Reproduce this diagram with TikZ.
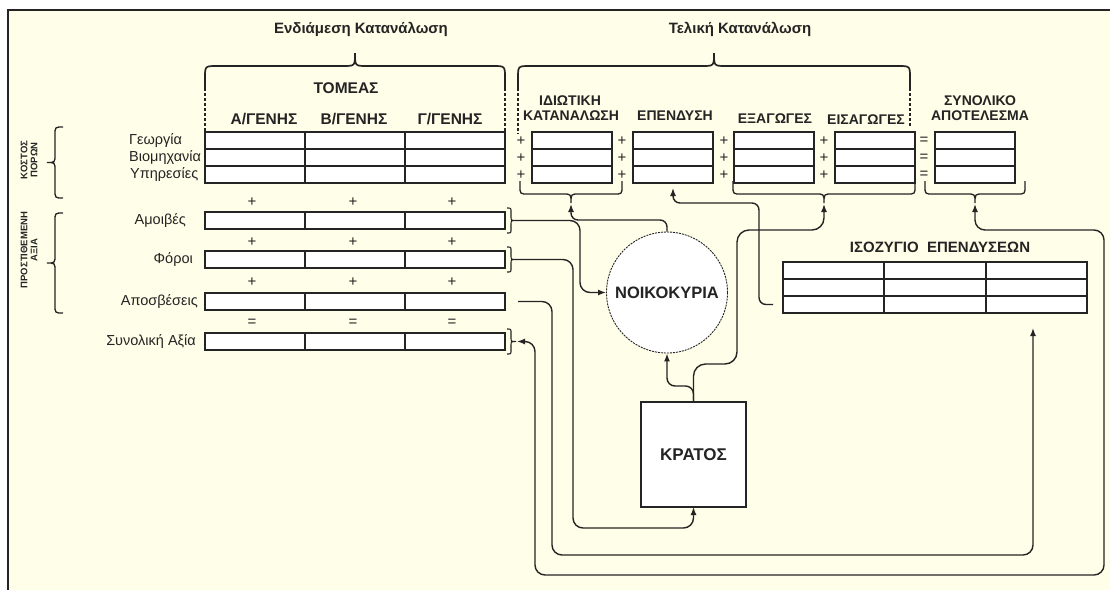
\documentclass[tikz,border=0pt]{standalone}
\usepackage{fontspec}
\setmainfont{Liberation Sans}
\usetikzlibrary{arrows.meta}
\definecolor{bgc}{RGB}{255,254,232}
\definecolor{inkc}{RGB}{36,36,36}

% horizontal curly brace: [style]{y_end}{y_bar}{y_tip}{x1}{x2}{radius}
\newcommand\hbrace[7][]{%
  \pgfmathsetmacro\hbs{(#2>#3)?1:-1}%
  \pgfmathsetmacro\hbc{(#5+#6)/2}%
  \draw[brc,#1] (#5,#2) -- (#5,{#3+\hbs*#7}) .. controls (#5,#3) and (#5,#3) .. ({#5+#7},#3)
    -- ({\hbc-#7},#3) .. controls (\hbc,#3) and (\hbc,#3) .. (\hbc,#4)
    .. controls (\hbc,#3) and (\hbc,#3) .. ({\hbc+#7},#3)
    -- ({#6-#7},#3) .. controls (#6,#3) and (#6,#3) .. (#6,{#3+\hbs*#7}) -- (#6,#2);}
% vertical curly brace: [style]{x_end}{x_bar}{x_tip}{y1}{y2}{radius}
\newcommand\vbrace[7][]{%
  \pgfmathsetmacro\vbs{(#2>#3)?1:-1}%
  \pgfmathsetmacro\vbc{(#5+#6)/2}%
  \draw[brc,#1] (#2,#5) -- ({#3+\vbs*#7},#5) .. controls (#3,#5) and (#3,#5) .. (#3,{#5+#7})
    -- (#3,{\vbc-#7}) .. controls (#3,\vbc) and (#3,\vbc) .. (#4,\vbc)
    .. controls (#3,\vbc) and (#3,\vbc) .. (#3,{\vbc+#7})
    -- (#3,{#6-#7}) .. controls (#3,#6) and (#3,#6) .. ({#3+\vbs*#7},#6) -- (#2,#6);}

\begin{document}
\begin{tikzpicture}[x=1pt,y=-1pt,
  brc/.style={draw=inkc,line width=1.3pt},
  grid/.style={draw=inkc,line width=1.2pt},
  box/.style={draw=inkc,fill=white,line width=1.5pt,inner sep=0pt,outer sep=0pt},
  conn/.style={draw=inkc,line width=1.4pt,rounded corners=10pt},
  arr/.style={-{Latex[length=8pt,width=6pt]}},
  dashln/.style={draw=inkc,line width=1.1pt,dash pattern=on 3pt off 2pt},
  ttl/.style={font=\bfseries\fontsize{15}{16}\selectfont,text=inkc,inner sep=0pt},
  hdr/.style={font=\bfseries\fontsize{14}{15}\selectfont,text=inkc,inner sep=0pt},
  hdrL/.style={font=\bfseries\fontsize{15.5}{16}\selectfont,text=inkc,inner sep=0pt},
  lbl/.style={font=\fontsize{14.5}{15}\selectfont,text=inkc,inner sep=0pt},
  sgn/.style={font=\fontsize{15}{15}\selectfont,text=inkc,inner sep=0pt},
  side/.style={rotate=90,align=center,font=\bfseries\fontsize{9.5}{10}\selectfont,text=inkc,inner sep=0pt}]
\useasboundingbox (0,0) rectangle (1110,590);
% sheet and frame
\fill[white] (0,0) rectangle (1110,590);
\fill[bgc] (8,10) rectangle (1110,590);
\draw[inkc,line width=1.4pt] (8,590) -- (8,10) -- (1110,10);

% ---- titles and top braces
\node[ttl] (tInter) at (361,29) {Ενδιάμεση Κατανάλωση};
\node[ttl] (tFinal) at (740,29) {Τελική Κατανάλωση};
\hbrace[line width=1.7pt]{88}{66}{53}{205}{505}{12}
\hbrace[line width=1.7pt]{88}{66}{53}{518}{910}{12}
\draw[dashln] (205,88) -- (205,132) (505,88) -- (505,132)
              (518,88) -- (518,134) (910,88) -- (910,126);

% ---- column headers
\node[hdrL] (hSector) at (346,88) {ΤΟΜΕΑΣ};
\node[hdrL] (hA) at (264,119) {Α/ΓΕΝΗΣ};
\node[hdrL] (hB) at (354,119) {Β/ΓΕΝΗΣ};
\node[hdrL] (hC) at (450,119) {Γ/ΓΕΝΗΣ};
\node[hdr] (hPriv1) at (570,101) {ΙΔΙΩΤΙΚΗ};
\node[hdr] (hPriv2) at (571,116) {ΚΑΤΑΝΑΛΩΣΗ};
\node[hdr] (hInv) at (675,116) {ΕΠΕΝΔΥΣΗ};
\node[hdr] (hExp) at (775,119) {ΕΞΑΓΩΓΕΣ};
\node[hdr] (hImp) at (866,120) {ΕΙΣΑΓΩΓΕΣ};
\node[hdr] (hTot1) at (980,101) {ΣΥΝΟΛΙΚΟ};
\node[hdr] (hTot2) at (980,116) {ΑΠΟΤΕΛΕΣΜΑ};

% ---- intermediate consumption table
\node[box,minimum width=300pt,minimum height=51pt] (tL) at (355,157.5) {};
\draw[grid] (305,132) -- (305,183) (405,132) -- (405,183)
            (205,149) -- (505,149) (205,166) -- (505,166);
\node[lbl,anchor=west] (rG) at (129,141) {Γεωργία};
\node[lbl,anchor=west] (rB) at (129,158) {Βιομηχανία};
\node[lbl,anchor=west] (rY) at (130,175) {Υπηρεσίες};

% ---- final demand boxes
\foreach \nm/\xl in {idiot/532,epend/633,exag/734,eisag/835,synres/935}{
  \node[box,minimum width=80pt,minimum height=51pt] (\nm) at ({\xl+40},157.5) {};
  \draw[grid] (\xl,149) -- ({\xl+80},149) (\xl,166) -- ({\xl+80},166);
}
\foreach \x/\s [count=\i] in {521/+,622/+,724/+,824/+,924/=}{
  \foreach \y [count=\j] in {141,158,175}{
    \node[sgn] (op\i\j) at (\x,\y) {\s};
  }
}

% ---- value added rows
\foreach \nm/\yt in {amoib/212,foroi/251,aposb/293,synol/333}{
  \node[box,minimum width=300pt,minimum height=17pt] (\nm) at (355,{\yt+8.5}) {};
  \draw[grid] (305,\yt) -- (305,{\yt+17}) (405,\yt) -- (405,{\yt+17});
}
\node[lbl,anchor=east] (rAm) at (186,220.5) {Αμοιβές};
\node[lbl,anchor=east] (rFo) at (193,259.5) {Φόροι};
\node[lbl,anchor=east] (rAp) at (198,301.5) {Αποσβέσεις};
\node[lbl,anchor=east] (rSy) at (196,341.5) {Συνολική Αξία};
\foreach \y/\s [count=\i] in {202/+,242/+,282/+,323/=}{
  \foreach \x [count=\j] in {252,353,452}{
    \node[sgn] (vs\i\j) at (\x,\y) {\s};
  }
}

% ---- side braces and labels
\vbrace{63}{55}{47}{127}{198}{8}
\vbrace{63}{55}{47}{213}{313}{8}
\node[side] (sCost) at (29,160) {ΚΟΣΤΟΣ\\ΠΟΡΩΝ};
\node[side] (sAdd) at (29,250) {ΠΡΟΣΤΙΘΕΜΕΝΗ\\ΑΞΙΑ};

% ---- small braces right of the rows
\vbrace[line width=1.1pt]{507}{511}{516}{208}{233}{4}
\vbrace[line width=1.1pt]{507}{511}{516}{247}{272}{4}
\vbrace[line width=1.1pt]{507}{511}{516}{329}{354}{4}
\coordinate (amoibT) at (516,220.5);
\coordinate (foroiT) at (516,259.5);
\coordinate (synolT) at (517,341.5);
\coordinate (aposbS) at (518,301.5);

% ---- braces under the final demand boxes
\hbrace[line width=1.3pt]{181}{194}{203}{520}{622}{8}
\hbrace[line width=1.3pt]{181}{194}{203}{733}{915}{8}
\hbrace[line width=1.3pt]{181}{194}{203}{925}{1025}{8}
\coordinate (bIdTip) at (571,204);
\coordinate (bExTip) at (824,204);
\coordinate (bSyTip) at (975,204);

% ---- investment balance
\node[hdr,font=\bfseries\fontsize{15}{16}\selectfont] (hBal) at (940,247) {ΙΣΟΖΥΓΙΟ\ \ ΕΠΕΝΔΥΣΕΩΝ};
\node[box,minimum width=304pt,minimum height=51pt] (isoz) at (935,287.5) {};
\draw[grid] (884,262) -- (884,313) (986,262) -- (986,313)
            (783,279) -- (1087,279) (783,296) -- (1087,296);
\coordinate (isozIn) at (1033,328);
\coordinate (isozOut) at (773,304.5);

% ---- households and state
\node[circle,draw=inkc,fill=white,line width=0.9pt,dash pattern=on 2pt off 1pt,
      minimum size=121pt,inner sep=0pt,font=\bfseries\fontsize{16.5}{17}\selectfont,text=inkc]
      (house) at (667,292.5) {ΝΟΙΚΟΚΥΡΙΑ};
\node[box,line width=1.3pt,minimum width=105pt,minimum height=105pt,
      font=\bfseries\fontsize{17}{18}\selectfont,text=inkc] (kratos) at (693.5,454.5) {ΚΡΑΤΟΣ};

% ---- flows
\draw[conn,arr] (amoibT) -- (580,220.5) |- (house.west);
\draw[conn,arr,rounded corners=7pt] (house.north) |- (571,220) -- (bIdTip);
\draw[conn,arr] (foroiT) -- (573,259.5) -- (573,528) -| (kratos.south);
\draw[conn,arr] (aposbS) -- (552,301.5) -- (552,555) -| (isozIn);
\draw[conn,{Latex[length=8pt,width=6pt]}-{Latex[length=8pt,width=6pt]}]
      (synolT) -- (535,341.5) -- (535,575) -- (1104,575) -- (1104,230) -| (bSyTip);
\draw[conn,arr,rounded corners=8pt] (kratos.north) -- (693.5,386) -| (house.south);
\draw[conn,arr,rounded corners=12pt] (kratos.north) -- (693.5,364) -- (737,364) -- (737,230) -| (bExTip);
\draw[conn,arr,rounded corners=7pt] (isozOut) -- (759,304.5) -- (759,203) -| (673,188);
\end{tikzpicture}
\end{document}
